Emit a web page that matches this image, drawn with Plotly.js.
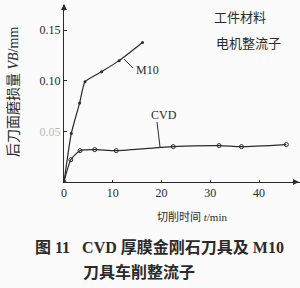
<!DOCTYPE html>
<html><head><meta charset="utf-8">
<script src="https://cdn.plot.ly/plotly-3.0.1.min.js"></script>
<style>html,body{margin:0;padding:0;background:#fbfbfb;}</style>
</head><body>
<div id="chart" style="width:300px;height:288px;"></div>
<script>
// Data
const tM10 = [0, 1.5, 3.2, 4.3, 7.7, 11.3, 16.1];
const vbM10 = [0, 0.048, 0.078, 0.099, 0.109, 0.120, 0.138];
const tCVD = [0, 1.4, 3.3, 6.3, 10.7, 22.4, 31.8, 36.4, 45.6];
const vbCVD = [0, 0.022, 0.031, 0.032, 0.031, 0.035, 0.036, 0.035, 0.037];
const xTicks = [0, 10, 20, 30, 40];
const xTickText = ['0', '10', '20', '30', '40'];
const yTicks = [0.05, 0.10, 0.15];
const yTickText = ['<span style="color:#b8b8b8">0.05</span>', '0.10', '0.15'];

const FONT = 'Liberation Serif, Noto Sans CJK SC, serif';
const INK = '#2a2a2a';
const W = 300, H = 288, ML = 64, MR = 0, MT = 5, MB = 106;
const PW = W - ML - MR, PH = H - MT - MB;
const px = x => (x - ML) / PW;
const py = y => (H - MB - y) / PH;

const traces = [
  {x: tM10, y: vbM10, mode: 'lines+markers', line: {color: INK, width: 1.2, shape: 'spline', smoothing: 0.5},
   marker: {size: 3, color: INK}, showlegend: false, hoverinfo: 'skip'},
  {x: tCVD, y: vbCVD, mode: 'lines+markers', line: {color: INK, width: 1.2, shape: 'spline', smoothing: 0.6},
   marker: {size: 4, symbol: 'circle-open', color: INK, line: {width: 1, color: INK}}, showlegend: false, hoverinfo: 'skip'}
];

const ann = (x, y, text, size, extra) => Object.assign({xref: 'paper', yref: 'paper', x: px(x), y: py(y), text: text,
  showarrow: false, font: {family: FONT, size: size, color: INK}, xanchor: 'center', yanchor: 'middle'}, extra || {});

const layout = {
  width: W, height: H,
  margin: {l: ML, r: MR, t: MT, b: MB},
  paper_bgcolor: '#fbfbfb', plot_bgcolor: '#fbfbfb',
  font: {family: FONT, color: INK},
  xaxis: {range: [0, 48.4], tickvals: xTicks, ticktext: xTickText, showgrid: false, zeroline: false,
          showline: true, linecolor: INK, linewidth: 1, ticks: 'inside', ticklen: 2, tickcolor: INK,
          tickfont: {family: FONT, size: 12, color: INK}, fixedrange: true},
  yaxis: {range: [0, 0.175], tickvals: yTicks, ticktext: yTickText, showgrid: false, zeroline: false,
          showline: true, linecolor: INK, linewidth: 1, ticks: 'inside', ticklen: 3, tickcolor: INK,
          tickfont: {family: FONT, size: 12, color: INK}, fixedrange: true},
  shapes: [
    {type: 'line', xref: 'paper', yref: 'paper', x0: px(124), y0: py(59), x1: px(133), y1: py(68), line: {color: INK, width: 1}},
    {type: 'line', xref: 'paper', yref: 'paper', x0: px(157), y0: py(122), x1: px(160), y1: py(147), line: {color: INK, width: 1}}
  ],
  annotations: [
    // axis arrows
    {xref: 'paper', yref: 'paper', x: px(299), y: py(182), ax: -8, ay: 0, showarrow: true, arrowhead: 2, arrowsize: 1, arrowwidth: 1.2, arrowcolor: INK, text: ''},
    {xref: 'paper', yref: 'paper', x: px(64), y: py(4), ax: 0, ay: 8, showarrow: true, arrowhead: 2, arrowsize: 1, arrowwidth: 1.2, arrowcolor: INK, text: ''},
    ann(147, 70, 'M10', 12),
    ann(164, 115, 'CVD', 12),
    ann(240, 17, '工件材料', 13),
    ann(248, 43, '电机整流子', 13),
    ann(13, 92, '后刀面磨损量 <i>VB</i>/mm', 14, {textangle: -90}),
    ann(192, 216, '切削时间 <i>t</i>/min', 11),
    ann(159, 247, '<b>图 11   CVD 厚膜金刚石刀具及 M10</b>', 16),
    ann(139, 272, '<b>刀具车削整流子</b>', 16)
  ]
};

Plotly.newPlot('chart', traces, layout, {staticPlot: true, displayModeBar: false});
</script>
</body></html>
